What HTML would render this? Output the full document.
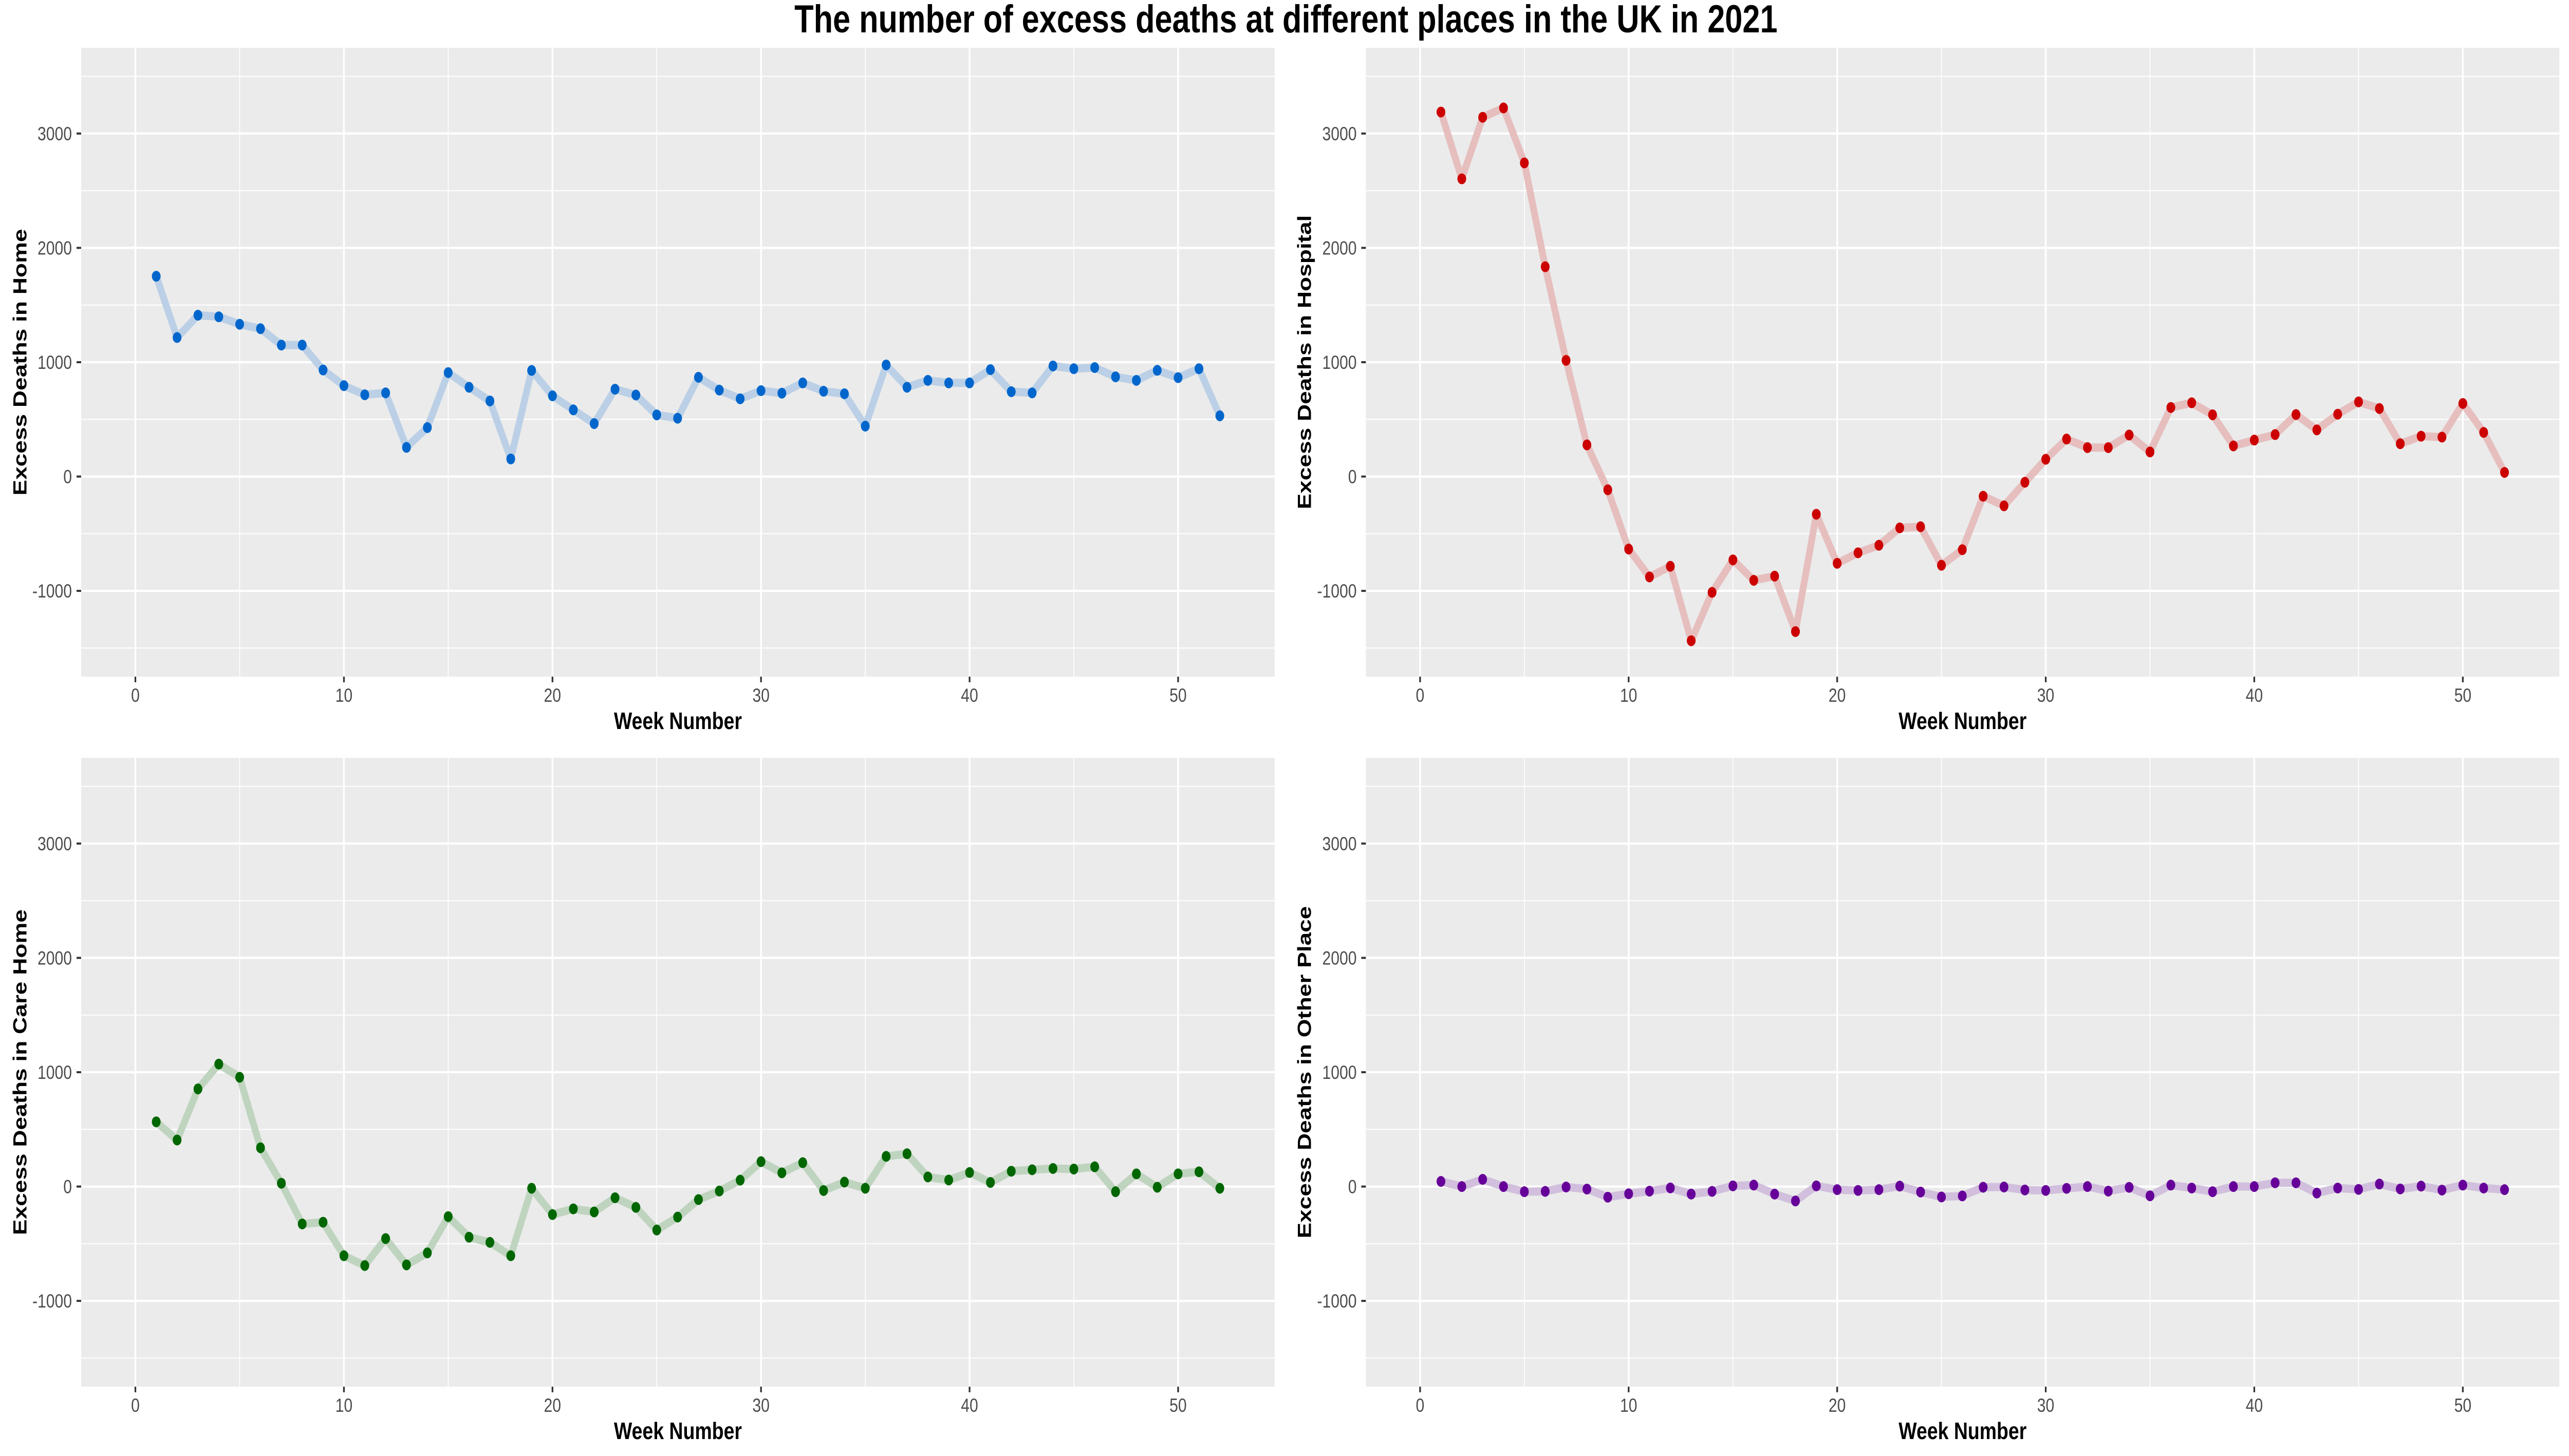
<!DOCTYPE html>
<html><head><meta charset="utf-8"><style>
html,body{margin:0;padding:0;background:#fff;overflow:hidden;width:100%;height:100%}
svg{display:block;font-family:"Liberation Sans",Arial,sans-serif;width:100vw;height:100vh}
</style></head><body>
<svg id="chart" viewBox="0 0 6141 2834" preserveAspectRatio="none" xmlns="http://www.w3.org/2000/svg">
<rect width="6141" height="2834" fill="#fff"/>
<text x="3074" y="63" text-anchor="middle" font-size="76" font-weight="bold" fill="#000" textLength="2350" lengthAdjust="spacingAndGlyphs">The number of excess deaths at different places in the UK in 2021</text>
</svg>
<script>
const weeks = Array.from({length:52},(_,i)=>i+1);
const homeValues = [1752,1216,1411,1397,1332,1293,1150,1150,932,795,715,732,255,428,909,781,661,154,928,706,583,463,764,713,539,510,868,756,680,751,729,819,746,724,441,976,781,841,819,819,935,742,732,967,943,953,872,841,929,865,943,531];
const hospitalValues = [3188,2604,3142,3224,2743,1835,1016,277,-116,-634,-878,-785,-1436,-1013,-729,-908,-871,-1356,-330,-759,-667,-601,-449,-439,-776,-640,-172,-256,-50,151,328,253,253,363,215,604,645,540,268,319,367,542,408,545,653,595,287,353,345,639,386,36];
const careHomeValues = [566,407,854,1071,956,339,29,-327,-312,-605,-691,-455,-685,-580,-263,-443,-488,-605,-15,-245,-195,-222,-98,-182,-380,-267,-114,-39,56,218,120,209,-35,39,-15,264,287,84,57,123,36,134,147,158,153,173,-45,111,-6,111,129,-15];
const otherValues = [45,0,63,0,-45,-42,-4,-22,-93,-63,-40,-12,-66,-42,6,13,-66,-126,6,-27,-34,-27,4,-48,-91,-82,-6,-4,-30,-34,-16,0,-40,-7,-81,13,-13,-45,0,0,33,33,-57,-13,-25,22,-21,4,-31,13,-13,-27];
const xTickLabels = [0,10,20,30,40,50];
const yTickLabels = [-1000,0,1000,2000,3000];

const NS="http://www.w3.org/2000/svg";
const svg=document.getElementById('chart');
const XMIN=-2.6, XMAX=54.63, YMIN=-1750, YMAX=3750;
function mk(tag,attrs,parent){const e=document.createElementNS(NS,tag);for(const k in attrs)e.setAttribute(k,attrs[k]);(parent||svg).appendChild(e);return e;}

const panels=[
 {name:'home',vals:homeValues,title:'Excess Deaths in Home',L:194,R:3047,T:93,B:1317,line:'#BBD0E6',pt:'#0066CC'},
 {name:'hospital',vals:hospitalValues,title:'Excess Deaths in Hospital',L:3265,R:6118,T:93,B:1317,line:'#E6BEBE',pt:'#CC0000'},
 {name:'care-home',vals:careHomeValues,title:'Excess Deaths in Care Home',L:194,R:3047,T:1475,B:2699,line:'#BFD4BF',pt:'#006600'},
 {name:'other-place',vals:otherValues,title:'Excess Deaths in Other Place',L:3265,R:6118,T:1475,B:2699,line:'#D1BFDD',pt:'#660099'}
];

panels.forEach(p=>{
  const xs=v=>p.L+(v-XMIN)/(XMAX-XMIN)*(p.R-p.L);
  const ys=v=>p.B-(v-YMIN)/(YMAX-YMIN)*(p.B-p.T);
  const g=mk('g',{});
  
  
  const bg=mk('rect',{x:p.L,y:p.T,width:p.R-p.L,height:p.B-p.T,fill:'#EBEBEB'},g);
  
  
  for(let v=5;v<=55;v+=10){ if(v>XMAX)break; const x=xs(v);
    const l=mk('line',{x1:x,x2:x,y1:p.T,y2:p.B,stroke:'#fff','stroke-width':2},g);
     }
  for(let v=-1500;v<=3500;v+=1000){ const y=ys(v);
    const l=mk('line',{x1:p.L,x2:p.R,y1:y,y2:y,stroke:'#fff','stroke-width':2},g);
     }
  xTickLabels.forEach(v=>{const x=xs(v);
    const l=mk('line',{x1:x,x2:x,y1:p.T,y2:p.B,stroke:'#fff','stroke-width':4.3},g);
     
    const t=mk('line',{x1:x,x2:x,y1:p.B,y2:p.B+11,stroke:'#333','stroke-width':4},g);
     
    const tx=mk('text',{x:x,y:p.B+49,'text-anchor':'middle','font-size':37,fill:'#4D4D4D'},g);
    tx.textContent=v;
     
  });
  yTickLabels.forEach(v=>{const y=ys(v);
    const l=mk('line',{x1:p.L,x2:p.R,y1:y,y2:y,stroke:'#fff','stroke-width':4.3},g);
     
    const t=mk('line',{x1:p.L-11,x2:p.L,y1:y,y2:y,stroke:'#333','stroke-width':4},g);
     
    const tx=mk('text',{x:p.L-22,y:y+13,'text-anchor':'end','font-size':37,fill:'#4D4D4D'},g);
    tx.textContent=v;
     
  });
  const xt=mk('text',{x:(p.L+p.R)/2,y:p.B+102,'text-anchor':'middle','font-size':46,'font-weight':'bold',fill:'#000'},g);
  xt.textContent='Week Number';
   
  const cy=(p.T+p.B)/2, cx=p.L-131;
  const yt=mk('text',{x:cx,y:cy,'text-anchor':'middle','font-size':46,'font-weight':'bold',fill:'#000',transform:`rotate(-90 ${cx} ${cy})`},g);
  yt.textContent=p.title;
   
  const d=p.vals.map((v,i)=>(i?'L':'M')+xs(weeks[i]).toFixed(1)+' '+ys(v).toFixed(1)).join(' ');
  const path=mk('path',{d:d,fill:'none',stroke:p.line,'stroke-width':16,'stroke-linejoin':'round'},g);
  
  
  p.vals.forEach((v,i)=>{
    const c=mk('circle',{cx:xs(weeks[i]),cy:ys(v),r:10.5,fill:p.pt},g);
    
    
  });
});
</script>
</body></html>
